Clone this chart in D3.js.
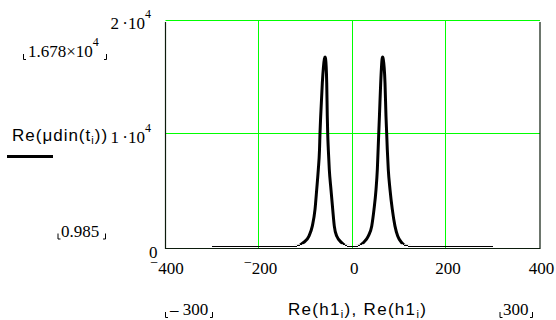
<!DOCTYPE html>
<html><head><meta charset="utf-8">
<script src="https://cdn.jsdelivr.net/npm/d3@7"></script>
<style>
html,body{margin:0;padding:0;background:#fff;}
svg{display:block;}
.serif{font-family:"Liberation Serif","Times New Roman",serif;font-size:17px;fill:#000;}
.sans{font-family:"Liberation Sans",Arial,sans-serif;font-size:17px;fill:#000;}
</style></head>
<body>
<svg id="c" width="556" height="320"></svg>
<script>
// ---- data ----
const h1 = [-300,-200,-140,-117,-105.6,-93.5,-86.4,-80.6,-77,-73.6,-71,-70,-68.5,-65,-60.6,-59.3,-58,
  -55.6,-54.4,-53.5,-52.2,-50.1,-46.5,-42.8,-39.4,-34.3,-23.6,-12.9,0,
  11.9,22.5,33.2,40.5,45.4,49.7,52.5,54.2,55.5,57,59.7,62.7,63.9,65.1,
  68.9,71,72.5,73.8,75.9,79.6,84.5,90.2,96,104.5,115,140,200,300];
const mu = [0.985,2,8,60,345,930,1810,3290,5050,6820,8590,10000,11530,14480,16600,16780,16600,
  14480,11530,10000,8590,6820,5050,3290,1810,930,345,60,2,
  60,345,930,1810,3290,5050,6820,8590,10000,11530,14480,16600,16780,16600,
  14480,11530,10000,8590,6820,5050,3290,1810,930,345,60,8,2,0.985];
const xTicks = [-400,-200,0,200,400];
const yTicks = [0,10000,20000];
const xGrid = [-200,0,200];
const yGrid = [10000,20000];
const xLimits = ["– 300","300"];
const yLimits = ["1.678×10","0.985"];

const svg = d3.select("#c");
const x = d3.scaleLinear().domain([-400,400]).range([165.5,540]);
const y = d3.scaleLinear().domain([0,20000]).range([246.6,20.6]);

// grid
svg.append("g").selectAll("line").data(xGrid).join("line")
  .attr("x1",d=>Math.round(x(d))-0.5).attr("x2",d=>Math.round(x(d))-0.5)
  .attr("y1",y(20000)).attr("y2",y(0)+1.8)
  .attr("stroke","#00ff00").attr("stroke-width",1);
svg.append("g").selectAll("line").data(yGrid).join("line")
  .attr("x1",x(-400)).attr("x2",x(400))
  .attr("y1",d=>Math.floor(y(d))+0.5).attr("y2",d=>Math.floor(y(d))+0.5)
  .attr("stroke","#00ff00").attr("stroke-width",1);

// frame
svg.append("path")
  .attr("d",`M${x(-400)},${y(20000)+1.4}V${y(0)+1.9}H${x(400)}V${y(20000)+1.4}`)
  .attr("fill","none").attr("stroke","#0c1c0c").attr("stroke-width",1.2);

const pts = h1.map((v,i)=>[v,mu[i]]);
const line = d3.line().x(d=>x(d[0])).y(d=>y(d[1])).curve(d3.curveMonotoneX);

svg.append("defs").append("clipPath").attr("id","clipThick")
  .append("rect").attr("x",x(-400)).attr("y",y(20000)).attr("width",x(400)-x(-400)).attr("height",y(0)-y(20000)-2.4);

svg.append("path").datum(pts).attr("d",line)
  .attr("fill","none").attr("stroke","#000").attr("stroke-width",1).attr("shape-rendering","crispEdges");
svg.append("path").datum(pts).attr("d",line).attr("clip-path","url(#clipThick)")
  .attr("fill","none").attr("stroke","#000").attr("stroke-width",3).attr("stroke-linejoin","round");

// x tick labels
xTicks.forEach(v=>{
  const t = svg.append("text").attr("class","serif").attr("x",x(v)+1.5).attr("y",274).attr("text-anchor","middle");
  if(v<0){
    t.append("tspan").attr("font-size",14).attr("dy",-7).text("−");
    t.append("tspan").attr("dy",7).text(Math.abs(v));
  } else t.text(v);
});

// y tick labels
function sciLabel(txt, ex, xr, base){
  const t = svg.append("text").attr("class","serif").attr("x",xr).attr("y",base).attr("text-anchor","end");
  t.append("tspan").text(txt);
  t.append("tspan").attr("font-size",12).attr("dy",-11).text(ex);
  return t;
}
sciLabel("2\u2009·10","4",151,y(yTicks[2])+8.5);
sciLabel("1\u2009·10","4",151,y(yTicks[1])+9.5);
svg.append("text").attr("class","serif").attr("x",157.5).attr("y",257.5).attr("text-anchor","end").text(yTicks[0]);

// corner brackets
function corners(x0,x1,base){
  const g = svg.append("g").attr("stroke","#000").attr("stroke-width",1).attr("fill","none");
  g.append("path").attr("d",`M${x0+0.5},${base-3}V${base+2.5}H${x0+3}`);
  g.append("path").attr("d",`M${x1-0.5},${base-3}V${base+2.5}H${x1-3}`);
}
// y limit labels
{
  const t = svg.append("text").attr("class","serif").attr("x",28).attr("y",57);
  t.append("tspan").text(yLimits[0]);
  t.append("tspan").attr("font-size",12).attr("dy",-11).text("4");
  corners(23,107,57);
  svg.append("text").attr("class","serif").attr("x",61).attr("y",236.5).text(yLimits[1]);
  corners(57.5,106,236.5);
}
// x limit labels
svg.append("text").attr("class","serif").attr("x",170).attr("y",315).text(xLimits[0]);
corners(165,213,315);
svg.append("text").attr("class","serif").attr("x",503).attr("y",315).text(xLimits[1]);
corners(499.5,533,315);

// y title
{
  const t = svg.append("text").attr("class","sans").attr("x",12).attr("y",141).attr("letter-spacing",1);
  t.append("tspan").text("Re(μdin(t");
  t.append("tspan").attr("font-size",11).attr("dy",3).text("i");
  t.append("tspan").attr("dy",-3).text("))");
  svg.append("line").attr("x1",7).attr("x2",53).attr("y1",156.5).attr("y2",156.5)
    .attr("stroke","#000").attr("stroke-width",3);
}
// x title
{
  const t = svg.append("text").attr("class","sans").attr("x",288).attr("y",315).attr("letter-spacing",1.3);
  t.append("tspan").text("Re(h1");
  t.append("tspan").attr("font-size",11).attr("dy",3).text("i");
  t.append("tspan").attr("dy",-3).text("), Re(h1");
  t.append("tspan").attr("font-size",11).attr("dy",3).text("i");
  t.append("tspan").attr("dy",-3).text(")");
}
</script>
</body></html>
